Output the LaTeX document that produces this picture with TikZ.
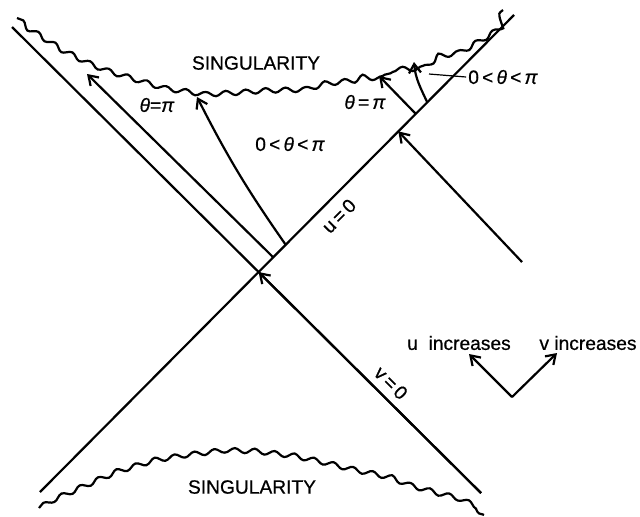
\documentclass[tikz,border=0pt]{standalone}
\usepackage{fontspec}
\setmainfont{Liberation Sans}[FakeBold=0.6]
\usetikzlibrary{arrows.meta,calc,decorations.pathmorphing}
\newcommand{\mytheta}{\textit{θ}}
\newcommand{\mypi}{\textit{π}}
\begin{document}
\begin{tikzpicture}[x=0.5pt,y=0.5pt,line width=1.1pt,
  arr/.style={-{Straight Barb[length=4.5pt,width=6pt]}},
  sing/.style={decorate,decoration={snake,amplitude=1.2pt,segment length=10pt}},
  lab/.style={font=\fontsize{9.6}{11}\selectfont,inner sep=0.5pt},
  leader/.style={line width=0.6pt}]
\useasboundingbox (0,0) rectangle (640,-516);
% main null lines
\coordinate (ub) at (40,-492);
\coordinate (ut) at (514,-15);
\coordinate (vt) at (12,-27);
\coordinate (vb) at (481,-493);
\draw (ub) -- (ut);
\draw (vt) -- (vb);
\path (intersection of ub--ut and vt--vb) coordinate (O);
\draw[arr] (vb) -- (O);
% points on u=0
\coordinate (a1) at ($(ub)!(273,-257)!(ut)$);
\coordinate (a2) at ($(ub)!(285,-244)!(ut)$);
\coordinate (a3) at ($(ub)!(399,-132)!(ut)$);
\coordinate (a4) at ($(ub)!(416,-114)!(ut)$);
\coordinate (a5) at ($(ub)!(427,-102)!(ut)$);
% arrow ends
\coordinate (e1) at (87,-74);
\coordinate (e2) at (197,-97);
\coordinate (s3) at (522,-262);
\coordinate (e4) at (379,-76);
\coordinate (e5) at (414,-62);
\draw[arr] (a1) -- (e1);
\draw[arr] (a2) to[bend left=4] (e2);
\draw[arr] (s3) -- (a3);
\draw[arr] (a4) -- (e4);
\draw[arr] (a5) to[out=115,in=-85] (e5);
% singularities
\draw[sing] (17,-18) -- (27,-27) -- (43,-37) -- (63,-50) -- (87,-62) -- (107,-70) -- (133,-78) -- (163,-87) -- (197,-92) -- (233,-90) -- (260,-88) -- (300,-87) -- (323,-80) -- (350,-77) -- (363,-72) -- (377,-73) -- (387,-62) -- (413,-61) -- (427,-50) -- (447,-47) -- (460,-40) -- (480,-28) -- (493,-18) -- (503,-10);
\draw[sing] (39,-508) -- (53,-500) -- (82,-487) -- (114,-473) -- (147,-463) -- (184,-457) -- (216,-453) -- (253,-454) -- (286,-458) -- (318,-465) -- (351,-473) -- (384,-480) -- (408,-490) -- (433,-497) -- (457,-503) -- (484,-515);
% labels
\node[lab] (stop) at (256,-63) {SINGULARITY};
\node[lab] (sbot) at (252,-487) {SINGULARITY};
\node[lab] (th1) at (157,-105) {\mytheta=\mypi};
\node[lab] (th2) at (365,-102) {\mytheta\,=\,\mypi};
\node[lab] (mid) at (290,-144) {0\,<\,\mytheta\,<\,\mypi};
\node[lab] (rlab) at (503,-77) {0\,<\,\mytheta\,<\,\mypi};
\node[lab,rotate=45] (u0) at (339,-216) {u\,=\,0};
\node[lab,rotate=-45] (v0) at (391,-383) {v\,=\,0};
\node[lab] (ui) at (459,-343) {u\ \ increases};
\node[lab] (vi) at (588,-343) {v increases};
\coordinate (lead) at (429,-74);
\draw[leader] (lead) -- (rlab.west);
% direction arrows
\coordinate (vx) at (512,-397);
\coordinate (uh) at (469,-354);
\coordinate (vh) at (557,-353);
\draw[arr] (vx) -- (uh);
\draw[arr] (vx) -- (vh);
\end{tikzpicture}
\end{document}
